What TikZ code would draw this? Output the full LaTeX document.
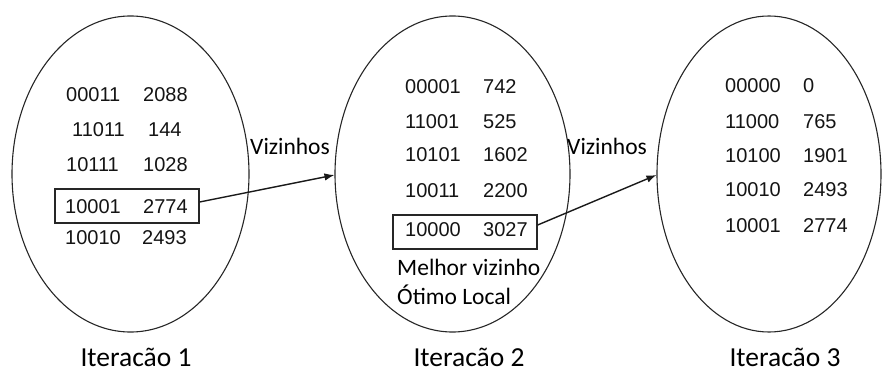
\documentclass[tikz,border=0pt]{standalone}
\usepackage{fontspec}
\setmainfont{Carlito}
\newfontfamily\numfont{Liberation Sans}
\usetikzlibrary{shapes.geometric,arrows.meta}
\tikzset{
  iter/.style={draw=black!85, line width=1.1pt, ellipse, inner sep=0pt},
  num/.style={anchor=west, inner sep=0pt, text=black!92, font=\numfont\fontsize{20}{21}\selectfont},
  lbl/.style={anchor=base west, inner sep=0pt, font=\fontsize{23.5}{26}\selectfont},
  itercap/.style={anchor=base, inner sep=0pt, font=\fontsize{27.5}{29}\selectfont},
  best/.style={draw=black!85, line width=1.3pt, inner sep=0pt},
  arr/.style={draw=black!90, line width=1.4pt, -{Latex[length=10pt,width=7.5pt]}}
}
\begin{document}
\begin{tikzpicture}[x=1pt,y=-1pt]
\useasboundingbox (0,0) rectangle (882,374);
% ellipses
\node[iter, minimum width=237pt, minimum height=316pt] (e1) at (130.5,174) {};
\node[iter, minimum width=235pt, minimum height=316pt] (e2) at (452.5,174) {};
\node[iter, minimum width=224pt, minimum height=316pt] (e3) at (769,174) {};
% best boxes
\node[best, minimum width=144pt, minimum height=34pt] (b1) at (127,206) {};
\node[best, minimum width=144pt, minimum height=34pt] (b2) at (465,232) {};
% iteration 1
\node[num] (a1) at (66,95) {00011};  \node[num] (a2) at (143,95) {2088};
\node[num] (a3) at (72,130) {11011}; \node[num] (a4) at (148,130) {144};
\node[num] (a5) at (66,165) {10111}; \node[num] (a6) at (143,165) {1028};
\node[num] (a7) at (65,207) {10001}; \node[num] (a8) at (143,207) {2774};
\node[num] (a9) at (65,238) {10010}; \node[num] (a10) at (142,238) {2493};
% iteration 2
\node[num] (c1) at (405,87) {00001};  \node[num] (c2) at (483,87) {742};
\node[num] (c3) at (405,122) {11001}; \node[num] (c4) at (483,122) {525};
\node[num] (c5) at (405,155) {10101}; \node[num] (c6) at (483,155) {1602};
\node[num] (c7) at (405,191) {10011}; \node[num] (c8) at (483,191) {2200};
\node[num] (c9) at (405,230) {10000}; \node[num] (c10) at (483,230) {3027};
% iteration 3
\node[num] (d1) at (725,86) {00000};  \node[num] (d2) at (803,86) {0};
\node[num] (d3) at (725,122) {11000}; \node[num] (d4) at (803,122) {765};
\node[num] (d5) at (725,156) {10100}; \node[num] (d6) at (803,156) {1901};
\node[num] (d7) at (725,190) {10010}; \node[num] (d8) at (803,190) {2493};
\node[num] (d9) at (725,226) {10001}; \node[num] (d10) at (803,226) {2774};
% labels
\node[lbl] (v1) at (250,155) {Vizinhos};
\node[lbl] (v2) at (567,155) {Vizinhos};
\node[lbl] (m1) at (397,275) {Melhor vizinho};
\node[lbl] (m2) at (397,304) {Ótimo Local};
\node[itercap] (i1) at (136,366) {Iteracão 1};
\node[itercap] (i2) at (469,366) {Iteracão 2};
\node[itercap] (i3) at (785,366) {Iteracão 3};
% arrows
\draw[arr] ([yshift=4pt]b1.east) -- ([yshift=-1pt]e2.west);
\draw[arr] ([yshift=7pt]b2.east) -- ([yshift=-1pt]e3.west);
\end{tikzpicture}
\end{document}
